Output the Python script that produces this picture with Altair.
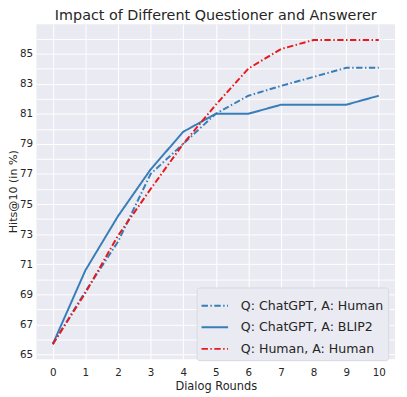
import altair as alt
import pandas as pd

rounds = list(range(11))
chatgpt_human = [65.7, 69.2, 72.5, 77.0, 79.0, 81.0, 82.2, 82.85, 83.45, 84.05, 84.05]
chatgpt_blip2 = [65.7, 70.6, 74.2, 77.3, 79.8, 81.0, 81.0, 81.6, 81.6, 81.6, 82.2]
human_human = [65.7, 69.1, 72.9, 76.0, 79.0, 81.6, 84.0, 85.3, 85.9, 85.9, 85.9]
series_names = ["Q: ChatGPT, A: Human", "Q: ChatGPT, A: BLIP2", "Q: Human, A: Human"]
colors = ["#377eb8", "#377eb8", "#e41a1c"]
dashes = [[6.5, 2.5, 1.5, 2.5], [1, 0], [6.5, 2.5, 1.5, 2.5]]

rows = []
for name, vals in zip(series_names, [chatgpt_human, chatgpt_blip2, human_human]):
    for r, v in zip(rounds, vals):
        rows.append({"round": r, "value": v, "series": name})
df = pd.DataFrame(rows)

font = "DejaVu Sans"
txt = "#262626"

chart = alt.Chart(df).mark_line(strokeWidth=2).encode(
    x=alt.X("round:Q", title="Dialog Rounds",
            scale=alt.Scale(domain=[-0.5, 10.5], nice=False, zero=False),
            axis=alt.Axis(values=rounds, format="d", grid=True, ticks=False,
                          domain=False, labelPadding=9, titlePadding=2,
                          labelFontSize=10.5, titleFontSize=11.6)),
    y=alt.Y("value:Q", title="Hits@10 (in %)",
            scale=alt.Scale(domain=[64.7, 86.95], nice=False, zero=False),
            axis=alt.Axis(values=list(range(65, 87)), ticks=False, domain=False,
                          labelExpr="datum.value % 2 == 1 ? datum.label : ''",
                          labelPadding=4, titleX=-23, titleY=170,
                          titleBaseline="middle", titleAlign="center",
                          labelFontSize=10.5, titleFontSize=11.3)),
    color=alt.Color("series:N", sort=series_names,
                    scale=alt.Scale(domain=series_names, range=colors),
                    legend=alt.Legend(title=None, orient="none", legendX=163, legendY=268,
                                      symbolType="stroke", symbolSize=729,
                                      symbolStrokeWidth=2, labelFontSize=12.8,
                                      labelOffset=12, rowPadding=-8, padding=4,
                                      fillColor="#EAEAF2", strokeColor="#d8d8e0",
                                      cornerRadius=3, labelColor=txt, labelFont=font)),
    strokeDash=alt.StrokeDash("series:N", sort=series_names,
                              scale=alt.Scale(domain=series_names, range=dashes),
                              legend=None),
).properties(
    width=365, height=341,
    title=alt.TitleParams("Impact of Different Questioner and Answerer",
                          fontSize=14.6, font=font, color=txt, fontWeight="normal",
                          anchor="middle", offset=2),
    padding={"left": 29, "top": 13, "right": 4, "bottom": 34},
    autosize=alt.AutoSizeParams(type="none"),
).configure_view(
    fill="#EAEAF2", stroke=None
).configure_axis(
    gridColor="white", gridWidth=1, labelFont=font, titleFont=font,
    labelColor=txt, titleColor=txt, titleFontWeight="normal"
)

chart.save("out.html", embed_options={"renderer": "svg", "actions": False})
